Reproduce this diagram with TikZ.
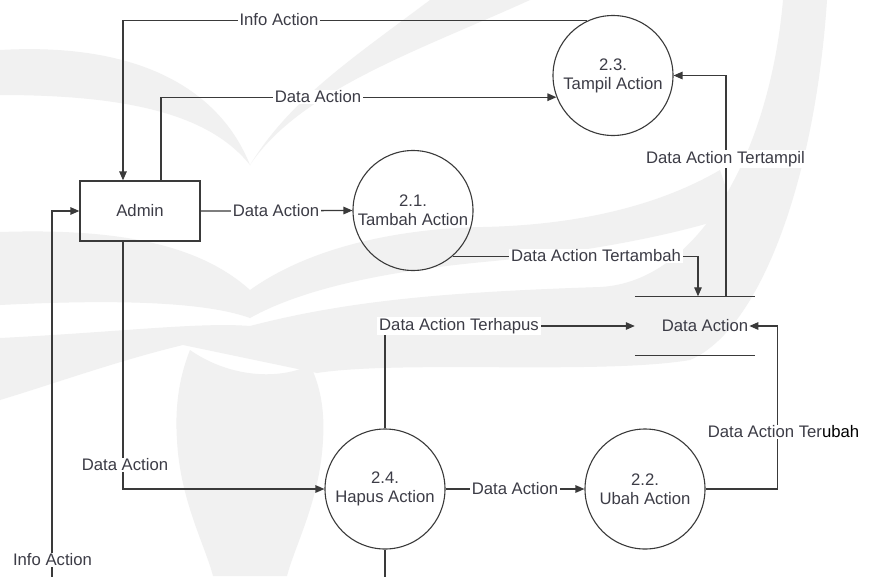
\documentclass[tikz,border=0pt]{standalone}
\usepackage{fontspec}
\setmainfont{Liberation Sans}
\usetikzlibrary{arrows.meta}
\definecolor{ink}{HTML}{3A3A3A}
\definecolor{txt}{HTML}{3C3C46}
\definecolor{wm}{HTML}{F1F1F1}

\begin{document}
\begin{tikzpicture}[x=1pt,y=-1pt,
  every node/.style={font=\fontsize{16.7}{19}\selectfont, text=txt},
  proc/.style={circle, draw=ink, line width=1.1pt, minimum size=120pt, inner sep=0pt, align=center},
  ent/.style={rectangle, draw=ink, line width=1.3pt, minimum width=120pt, minimum height=60pt},
  flow/.style={draw=ink, line width=1.3pt, -{Triangle[length=9pt,width=7.5pt]}},
  link/.style={draw=ink, line width=1.3pt},
  lbl/.style={fill=white, inner xsep=2pt, inner ysep=1pt},
  storeline/.style={draw=ink, line width=1.3pt},
]
\useasboundingbox (0,0) rectangle (870,576);
\clip (0,0) rectangle (870,576);
\fill[white] (0,0) rectangle (870,576);

% faint background emblem
\begin{scope}[fill=wm]
  % upper wings
  \fill (0,50) .. controls (140,42) and (220,90) .. (250,165)
        .. controls (210,115) and (130,95) .. (0,95) -- cycle;
  \fill (250,165) .. controls (290,100) and (350,60) .. (430,0) -- (530,0)
        .. controls (420,50) and (300,90) .. (250,165) -- cycle;
  % middle band
  \fill (0,232) .. controls (120,228) and (200,245) .. (250,290)
        .. controls (320,240) and (420,228) .. (483,227)
        .. controls (580,225) and (660,205) .. (720,170)
        -- (735,215) .. controls (660,240) and (560,255) .. (483,262)
        .. controls (380,272) and (300,290) .. (250,318)
        .. controls (200,300) and (100,300) .. (0,305) -- cycle;
  % lower band sweeping up to the right
  \fill (0,338) .. controls (120,332) and (200,322) .. (250,326)
        .. controls (350,300) and (450,292) .. (600,287)
        .. controls (700,282) and (770,150) .. (783,0) -- (827,0)
        .. controls (815,180) and (760,330) .. (690,360)
        .. controls (600,375) and (400,360) .. (317,373)
        -- (183,345) .. controls (120,360) and (50,385) .. (0,400) -- cycle;
  % vessel
  \fill (190,350) .. controls (178,380) and (175,410) .. (177,440)
        .. controls (180,500) and (205,545) .. (213,576) -- (287,576)
        .. controls (295,545) and (320,500) .. (323,440)
        .. controls (325,410) and (320,385) .. (310,365)
        .. controls (280,380) and (230,378) .. (190,350) -- cycle;
\end{scope}

% entity, processes and data store
\node[ent]  (admin) at (140,211) {Admin};
\node[proc] (p23) at (613,75.5) {2.3.\\Tampil Action};
\node[proc] (p21) at (413,210.5) {2.1.\\Tambah Action};
\node[proc] (p24) at (385,489) {2.4.\\Hapus Action};
\node[proc] (p22) at (645,489) {2.2.\\Ubah Action};
\node[minimum width=120pt, minimum height=59pt, inner sep=0pt] (store) at (695,326) {};
\node[inner sep=1pt] (storelbl) at (705,326) {Data Action};
\draw[storeline] (store.north west) -- (store.north east);
\draw[storeline] (store.south west) -- (store.south east);

% free ends leaving the lower edge
\coordinate (infoin) at (52,590);
\coordinate (hapusout) at (385,590);

% data flows
\draw[flow] (p23.115) -| ([xshift=-17pt]admin.north);
\draw[flow] ([xshift=21pt]admin.north) |- (p23.201);
\draw[flow] (admin.east) -- (p21.west);
\draw[flow] (p21.-49) -| ([xshift=3pt]store.north);
\draw[flow] ([xshift=31pt]store.north) |- (p23.east);
\draw[flow] (p24.north) |- (store.west);
\draw[flow] ([xshift=-17pt]admin.south) |- (p24.west);
\draw[flow] (p24.east) -- (p22.west);
\draw[flow] (p22.east) -| ([xshift=28pt]storelbl.east) -- (storelbl.east);
\draw[flow] (infoin) |- (admin.west);
\draw[link] (p24.south) -- (hapusout);

% flow labels
\node[lbl] (l1) at (279,20)    {Info Action};
\node[lbl] (l2) at (318,97)    {Data Action};
\node[lbl] (l3) at (276,211)   {Data Action};
\node[lbl] (l4) at (596,256)   {Data Action Tertambah};
\node[lbl] (l5) at (725.5,159) {Data Action Tertampil};
\node[lbl] (l6) at (459,326)   {Data Action Terhapus};
\node[lbl] (l7) at (515,489)   {Data Action};
\node[lbl] (l8) at (783.5,432) {Data Action Ter{\color{black}ubah}};
\node[lbl] (l9) at (125,465)   {Data Action};
\node[lbl] (l10) at (52.5,560) {Info Action};
\end{tikzpicture}
\end{document}
